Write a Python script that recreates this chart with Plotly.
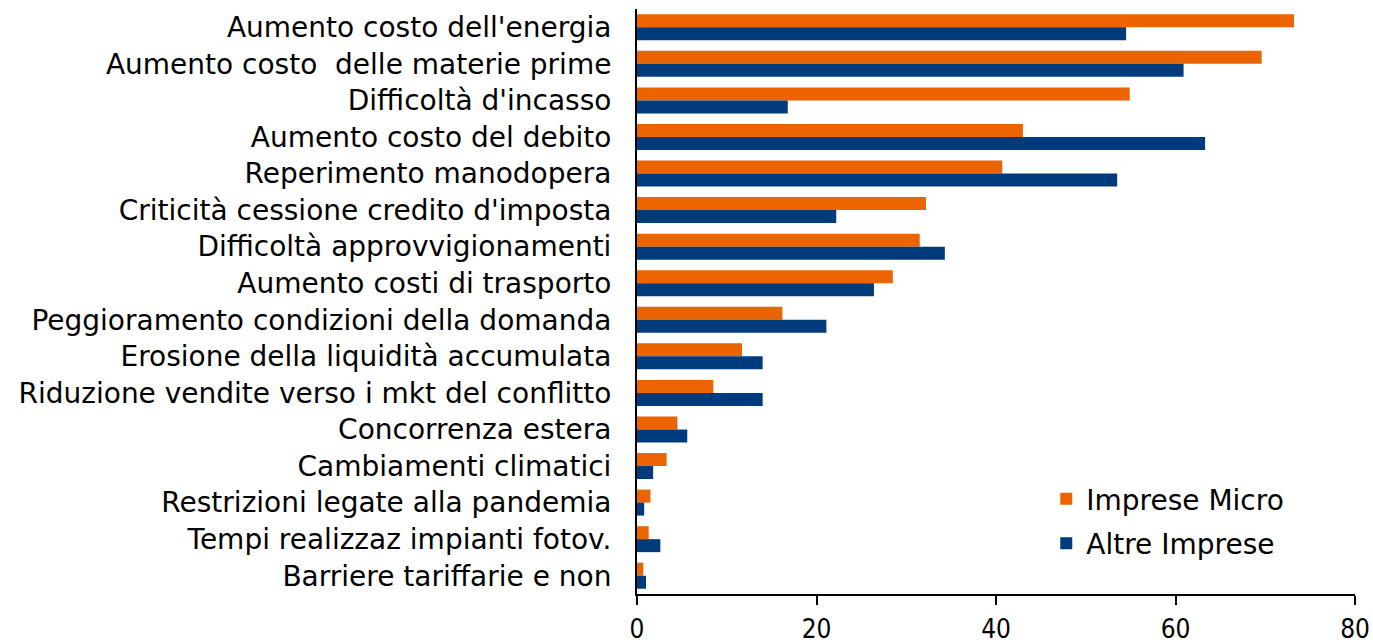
import plotly.graph_objects as go

categories = [
    "Aumento costo dell'energia",
    "Aumento costo  delle materie prime",
    "Difficoltà d'incasso",
    "Aumento costo del debito",
    "Reperimento manodopera",
    "Criticità cessione credito d'imposta",
    "Difficoltà approvvigionamenti",
    "Aumento costi di trasporto",
    "Peggioramento condizioni della domanda",
    "Erosione della liquidità accumulata",
    "Riduzione vendite verso i mkt del conflitto",
    "Concorrenza estera",
    "Cambiamenti climatici",
    "Restrizioni legate alla pandemia",
    "Tempi realizzaz impianti fotov.",
    "Barriere tariffarie e non",
]
imprese_micro = [73.2, 69.6, 54.9, 43.0, 40.7, 32.2, 31.5, 28.5, 16.2, 11.7, 8.5, 4.5, 3.3, 1.5, 1.3, 0.7]
altre_imprese = [54.5, 60.9, 16.8, 63.3, 53.5, 22.2, 34.3, 26.4, 21.1, 14.0, 14.0, 5.6, 1.8, 0.8, 2.6, 1.0]
x_ticks = [0, 20, 40, 60, 80]

ORANGE = "#EB6400"
NAVY = "#003B7B"
FONT = "Century Gothic, DejaVu Sans, sans-serif"

fig = go.Figure()
fig.add_trace(go.Bar(y=categories, x=imprese_micro, orientation="h", name="Imprese Micro",
                     marker=dict(color=ORANGE, line=dict(width=0)), legendgroup="a"))
fig.add_trace(go.Bar(y=categories, x=altre_imprese, orientation="h", name="Altre Imprese",
                     marker=dict(color=NAVY, line=dict(width=0)), legendgroup="b"))

fig.update_layout(
    width=1373, height=644,
    margin=dict(l=637, r=18, t=9, b=50, autoexpand=False),
    paper_bgcolor="white", plot_bgcolor="white",
    barmode="group", bargap=0.29, bargroupgap=0,
    font=dict(family=FONT, color="black", size=28),
    legend=dict(
        x=0.57, y=0.205, xanchor="left", yanchor="top",
        font=dict(size=28, family=FONT), traceorder="grouped", tracegroupgap=5,
        bgcolor="rgba(0,0,0,0)", itemclick=False,
    ),
    xaxis=dict(
        range=[0, 80], tickvals=x_ticks, showgrid=False, zeroline=False,
        showline=True, linecolor="black", linewidth=2, automargin=False,
        ticks="outside", ticklen=9, tickwidth=2, tickcolor="black",
        tickfont=dict(family="DejaVu Sans Condensed, DejaVu Sans, sans-serif", size=26),
        ticklabelstandoff=2,
    ),
    yaxis=dict(
        autorange="reversed", showgrid=False, zeroline=False, automargin=False,
        showline=True, linecolor="black", linewidth=2, ticks="",
        tickfont=dict(family=FONT, size=28), ticklabelstandoff=18,
    ),
)

fig.write_html(
    "out.html",
    config={"displayModeBar": False},
    post_script="document.body.style.margin='0';document.body.style.overflow='hidden';",
)
